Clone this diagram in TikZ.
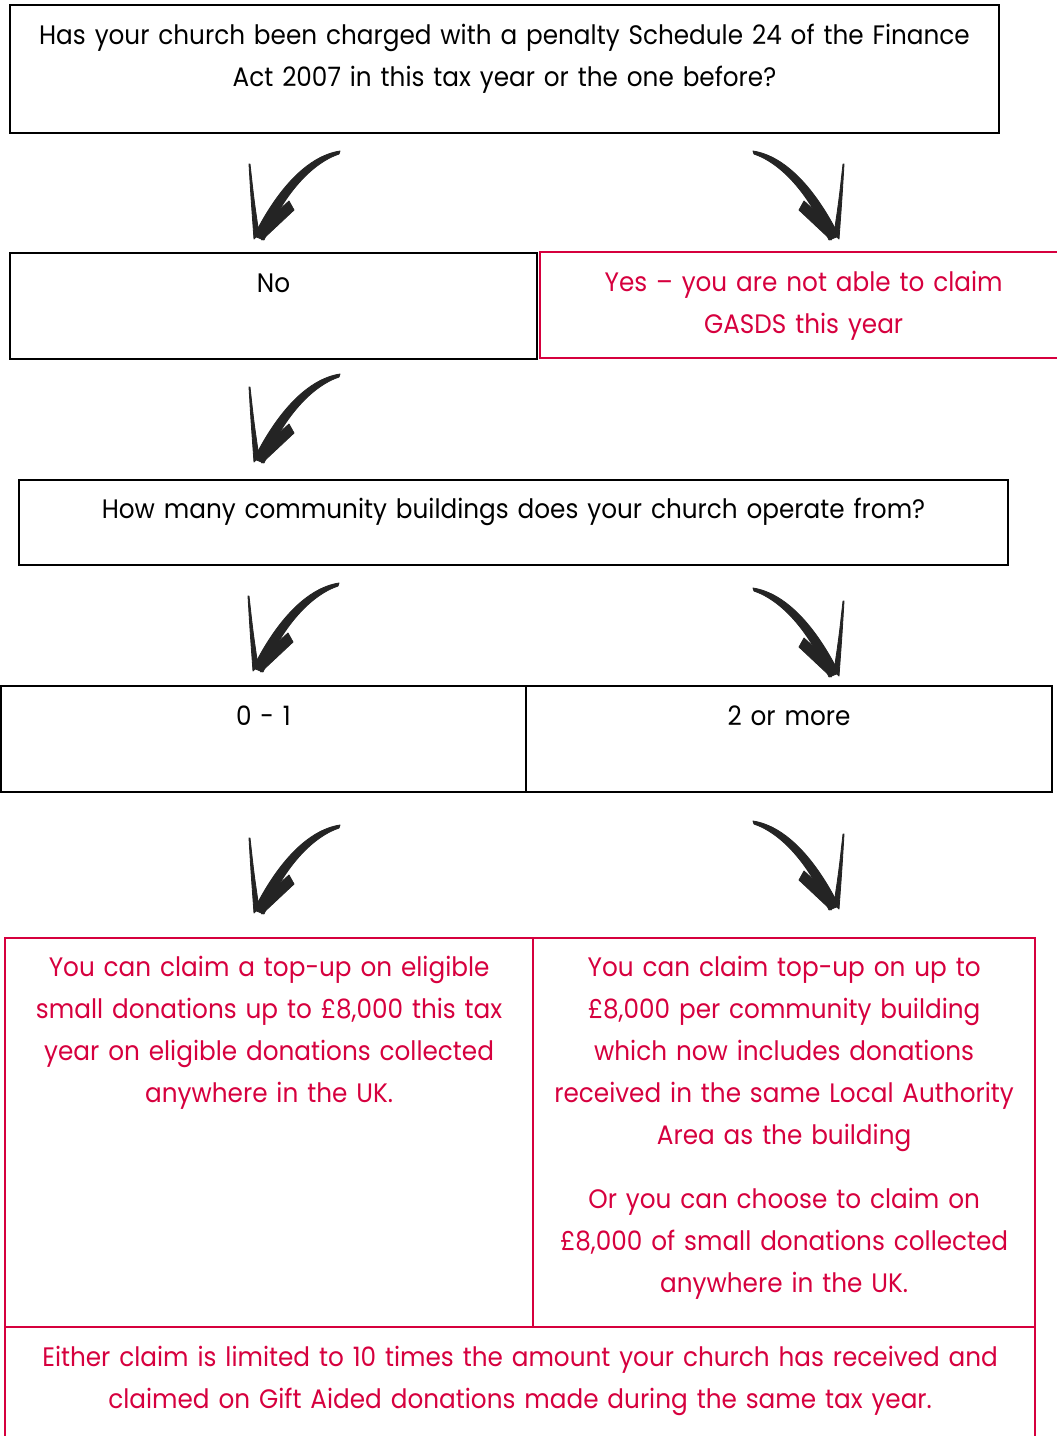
\documentclass[tikz,border=0pt]{standalone}
\usepackage{fontspec}
\setmainfont[FakeStretch=0.925]{Poppins}
\usetikzlibrary{positioning,calc}
\definecolor{gasdsred}{RGB}{214,0,62}
\definecolor{brushgrey}{RGB}{36,36,36}

% brush stroke arrow, tip at the origin, pointing down-left
\newcommand{\brushshape}{%
    \filldraw[brush] (82,-87) .. controls (50,-82) and (20,-50) .. (-4,-2)
        -- (6,2) .. controls (25,-42) and (52,-74) .. (81,-84) -- cycle;
    \filldraw[brush] (-9,-74) .. controls (-7,-40) .. (-4,1)
        -- (1,-4) .. controls (-4,-38) .. (-8,-74) -- cycle;
    \filldraw[brush] (-2,-7) -- (31,-37) -- (36,-28) -- (4,2) -- cycle;
}

\begin{document}
\begin{tikzpicture}[
        x=0.025cm, y=-0.025cm,
        wh/.style 2 args={minimum width=#1*0.025cm, minimum height=#2*0.025cm},
        box/.style={draw=black, line width=1.4pt, anchor=north west, inner sep=0pt},
        redbox/.style={box, draw=gasdsred, line width=1.6pt},
        txt/.style={anchor=base, align=center, text width=28cm, inner sep=0pt,
            font=\fontsize{19}{29.9}\selectfont},
        redtxt/.style={txt, text=gasdsred},
        brush/.style={fill=brushgrey, draw=brushgrey, line width=0.6pt, line join=round},
        brushL/.pic={\brushshape},
        brushR/.pic={\begin{scope}[xscale=-1] \brushshape \end{scope}},
    ]
    \useasboundingbox (0,0) rectangle (1057,1436);
    % boxes
    \node[box, wh={989}{128}] (charged) at (9,4) {};
    \node[box, wh={527}{106}] (no) at (9,252) {};
    \node[redbox, wh={527}{106}] (yes) at (539,251) {};
    \node[box, wh={989}{85}] (buildings) at (18,479) {};
    \node[box, wh={525}{106}] (few) at (0,685) {};
    \node[box, wh={526}{106}] (many) at (525,685) {};
    \node[redbox, wh={528}{389}] (claimfew) at (4,937) {};
    \node[redbox, wh={502}{389}] (claimmany) at (532,937) {};
    \node[redbox, wh={1030}{140}] (limit) at (4,1326) {};
    % texts
    \node[txt] (chargedt) at ($(charged.north)+(0,40)$)
        {Has your church been charged with a penalty Schedule 24 of the Finance\\
         Act 2007 in this tax year or the one before?};
    \node[txt] (not) at ($(no.north)+(0,40)$) {No};
    \node[redtxt] (yest) at ($(yes.north)+(0,40)$)
        {Yes – you are not able to claim\\ GASDS this year};
    \node[txt] (buildingst) at ($(buildings.north)+(0,39)$)
        {How many community buildings does your church operate from?};
    \node[txt] (fewt) at ($(few.north)+(0,40)$) {0 - 1};
    \node[txt] (manyt) at ($(many.north)+(0,40)$) {2 or more};
    \node[redtxt] (claimfewt) at ($(claimfew.north)+(0,39)$)
        {You can claim a top-up on eligible\\ small donations up to £8,000 this tax\\
         year on eligible donations collected\\ anywhere in the UK.};
    \node[redtxt] (claimmanyt) at ($(claimmany.north)+(0,39)$)
        {You can claim top-up on up to\\ £8,000 per community building\\
         which now includes donations\\ received in the same Local Authority\\
         Area as the building\\[16pt]
         Or you can choose to claim on\\ £8,000 of small donations collected\\
         anywhere in the UK.};
    \node[redtxt] (limitt) at ($(limit.north)+(0,40)$)
        {Either claim is limited to 10 times the amount your church has received and\\
         claimed on Gift Aided donations made during the same tax year.};
    % brush arrows
    \pic at (258,238) {brushL};
    \pic at (835,238) {brushR};
    \pic at (258,461) {brushL};
    \pic at (257,670) {brushL};
    \pic at (835,675) {brushR};
    \pic at (258,912) {brushL};
    \pic at (835,908) {brushR};
\end{tikzpicture}
\end{document}
